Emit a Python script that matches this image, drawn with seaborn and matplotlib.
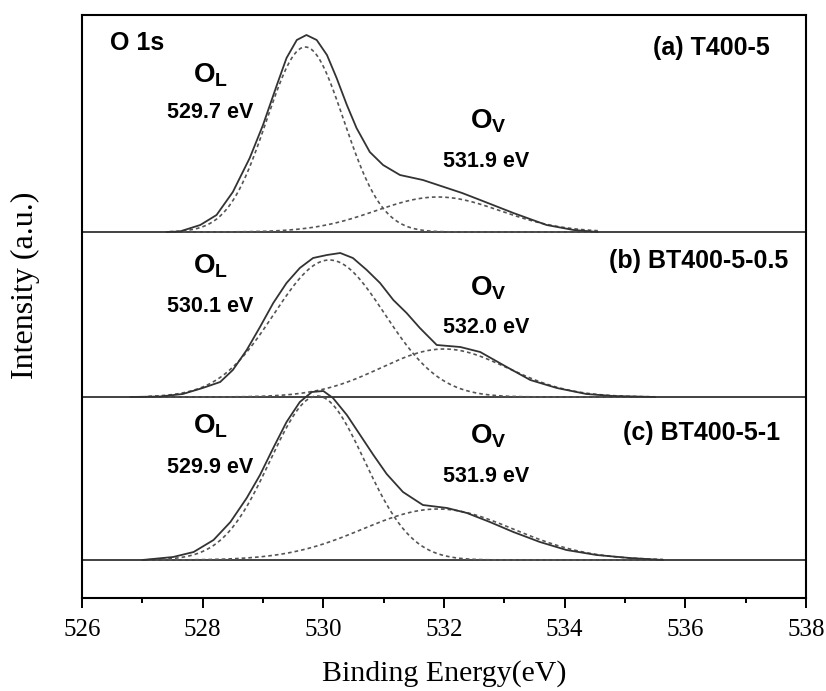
import numpy as np
import pandas as pd
import matplotlib
matplotlib.use("Agg")
import matplotlib.pyplot as plt
import seaborn as sns

# ---------------- data ----------------
samples = ["(a) T400-5", "(b) BT400-5-0.5", "(c) BT400-5-1"]
offsets = [366, 201, 38]

# measured O 1s envelopes (binding energy in eV, intensity above each baseline)
energy_a = [527.40, 527.62, 527.96, 528.23, 528.50, 528.78, 529.00, 529.23, 529.39,
            529.56, 529.72, 529.89, 530.06, 530.22, 530.39, 530.55, 530.77, 530.99,
            531.27, 531.65, 531.95, 532.30, 532.60, 533.15, 533.70, 534.15, 534.55]
counts_a = [0, 0.5, 7, 17, 40, 74, 107, 147, 174, 192, 197, 192, 177, 154, 127, 104,
            80, 67, 57, 52, 46, 39, 32, 19, 7, 2, 0]

energy_b = [526.80, 527.30, 527.67, 528.00, 528.29, 528.50, 528.73, 528.95, 529.17,
            529.39, 529.61, 529.83, 530.06, 530.28, 530.49, 530.72, 530.94, 531.16,
            531.38, 531.60, 531.88, 532.27, 532.60, 533.04, 533.43, 533.87, 534.36,
            534.80, 535.50]
counts_b = [0, 0.5, 3, 9, 15, 27, 47, 70, 94, 114, 129, 139, 142, 144, 139, 127, 114,
            97, 84, 69, 52, 50, 45, 30, 17, 9, 3, 1, 0]

energy_c = [527.00, 527.51, 527.85, 528.18, 528.46, 528.73, 528.95, 529.17, 529.39,
            529.61, 529.81, 530.00, 530.16, 530.39, 530.61, 530.83, 531.05, 531.32,
            531.65, 532.05, 532.38, 532.76, 533.15, 533.59, 534.03, 534.53, 535.08,
            535.63]
counts_c = [0, 3, 8, 20, 38, 62, 85, 112, 138, 158, 168, 169, 162, 145, 125, 105, 86,
            68, 55, 52, 47, 38, 28, 18, 10, 5, 2, 0]

# fitted components: lattice oxygen (O_L) and oxygen vacancy (O_V)
ol_center = [529.7, 530.1, 529.9]
ol_height = [185, 137, 164]
ol_fwhm = [1.50, 2.16, 1.84]
ov_center = [531.9, 532.0, 531.9]
ov_height = [35, 48, 51]
ov_fwhm = [2.43, 2.47, 2.94]
fit_range = [(527.45, 534.55), (527.10, 535.50), (527.10, 535.63)]

xticks = [526, 528, 530, 532, 534, 536, 538]

envelopes = [(energy_a, counts_a), (energy_b, counts_b), (energy_c, counts_c)]


def gaussian(x, center, height, fwhm):
    sigma = fwhm / (2.0 * np.sqrt(2.0 * np.log(2.0)))
    return height * np.exp(-0.5 * ((x - center) / sigma) ** 2)


# ---------------- style ----------------
sns.set_theme(style="ticks")
plt.rcParams["font.family"] = ["Liberation Serif", "DejaVu Serif"]
plt.rcParams["mathtext.fontset"] = "custom"
plt.rcParams["mathtext.bf"] = "Liberation Sans:bold"
plt.rcParams["mathtext.rm"] = "Liberation Sans"
plt.rcParams["text.color"] = "black"
plt.rcParams["axes.labelcolor"] = "black"

fig = plt.figure(figsize=(8.26, 6.91), dpi=100)
ax = fig.add_axes([82 / 826, 1 - 598 / 691, (806 - 82) / 826, (598 - 15) / 691])

line_col = "#333333"
dash_col = "#555555"

for i in range(3):
    off = offsets[i]
    ax.axhline(off, color=line_col, lw=1.3, zorder=1)

    e, c = envelopes[i]
    df = pd.DataFrame({"energy": e, "intensity": np.asarray(c, float) + off})
    sns.lineplot(data=df, x="energy", y="intensity", ax=ax, color=line_col,
                 lw=1.3, sort=False, estimator=None, zorder=3)

    x = np.linspace(fit_range[i][0], fit_range[i][1], 400)
    for cen, h, w in ((ol_center[i], ol_height[i], ol_fwhm[i]),
                      (ov_center[i], ov_height[i], ov_fwhm[i])):
        comp = pd.DataFrame({"energy": x, "intensity": gaussian(x, cen, h, w) + off})
        sns.lineplot(data=comp, x="energy", y="intensity", ax=ax, color=dash_col,
                     lw=1.2, linestyle=(0, (2.2, 1.8)), sort=False,
                     estimator=None, zorder=2)

ax.set_xlim(526, 538)
ax.set_ylim(0, 583)
ax.set_xticks(xticks)
ax.set_xticks(np.arange(527, 538, 2), minor=True)
ax.set_yticks([])
ax.tick_params(axis="x", which="major", direction="out", length=7, width=1.4,
               labelsize=18, pad=8, colors="black")
ax.tick_params(axis="x", which="minor", direction="out", length=3.5, width=1.4,
               colors="black")
for s in ax.spines.values():
    s.set_linewidth(1.5)
    s.set_color("black")

ax.set_xlabel("Binding Energy(eV)", fontsize=21.5, labelpad=14)
ax.set_ylabel("Intensity (a.u.)", fontsize=23)
ax.yaxis.set_label_coords((40 - 82) / 724, (598 - 285) / 583)

# ---------------- annotations ----------------
sans = ["Liberation Sans", "DejaVu Sans"]
ax.text(526.46, 548, "O 1s", fontsize=18, fontweight="bold", family=sans,
        ha="left", va="baseline")

title_pos = [(537.40, 543), (537.70, 330), (537.57, 158)]
ol_pos = [(527.84, 516), (527.84, 325), (527.84, 165)]
ol_val_pos = [(527.41, 480), (527.41, 286), (527.41, 125)]
ov_pos = [(532.43, 470), (532.43, 303), (532.43, 155)]
ov_val_pos = [(531.98, 431), (531.98, 265), (531.98, 116)]

for i in range(3):
    ax.text(*title_pos[i], samples[i], fontsize=18, fontweight="bold", family=sans,
            ha="right", va="baseline")
    ax.text(*ol_pos[i], r"$\mathbf{O}_{\mathbf{L}}$", fontsize=20,
            ha="left", va="baseline")
    ax.text(*ol_val_pos[i], f"{ol_center[i]:.1f} eV", fontsize=15.5,
            fontweight="bold", family=sans, ha="left", va="baseline")
    ax.text(*ov_pos[i], r"$\mathbf{O}_{\mathbf{V}}$", fontsize=20,
            ha="left", va="baseline")
    ax.text(*ov_val_pos[i], f"{ov_center[i]:.1f} eV", fontsize=15.5,
            fontweight="bold", family=sans, ha="left", va="baseline")

fig.savefig("out.png", dpi=100)
